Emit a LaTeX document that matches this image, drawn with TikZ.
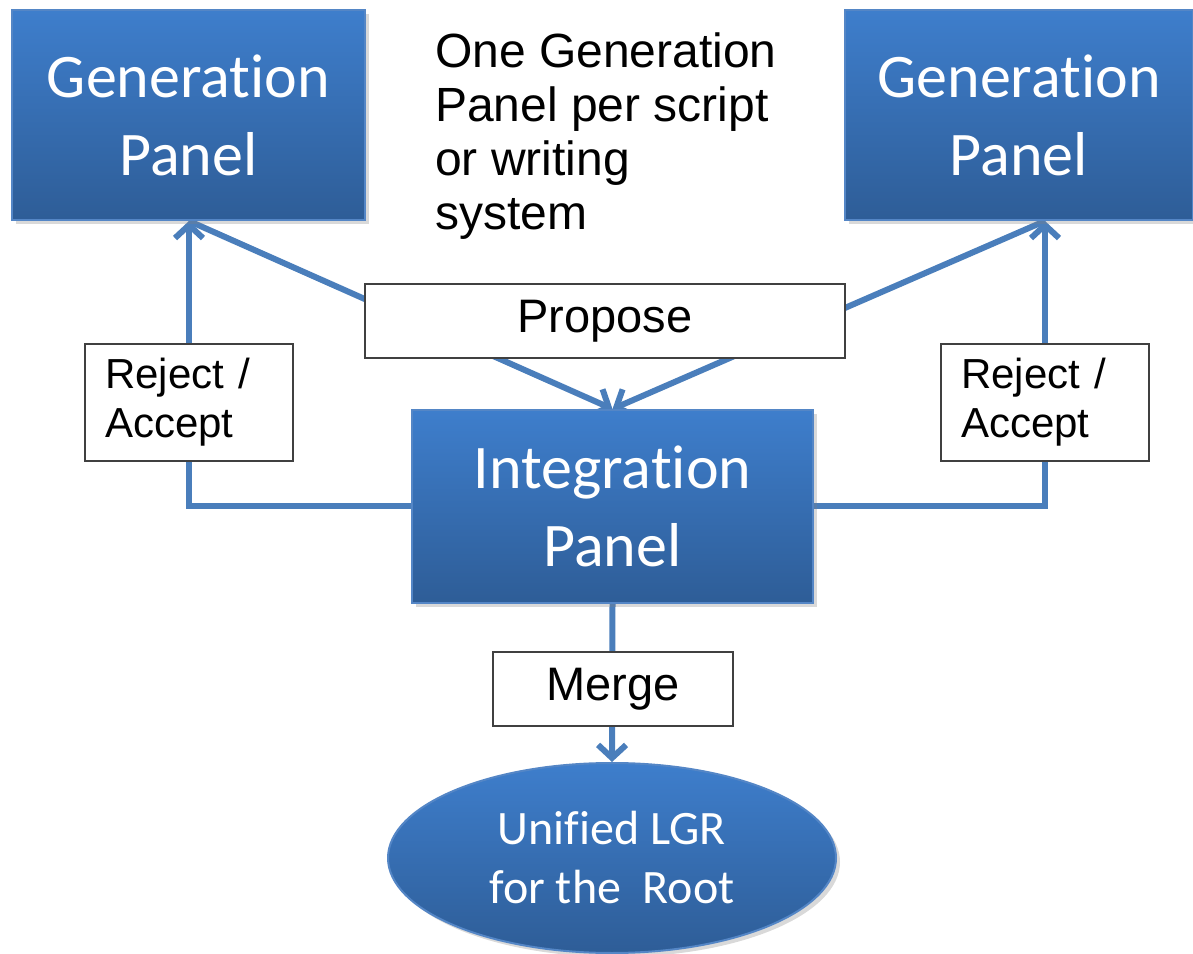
\documentclass[tikz,border=0pt]{standalone}
\usepackage{fontspec}
\setmainfont{Liberation Sans}
\newfontfamily\panelfont[Ligatures=NoCommon]{Carlito}
\usetikzlibrary{arrows.meta,shadows,backgrounds,shapes.geometric}

\definecolor{paneltop}{RGB}{62,126,204}
\definecolor{panelbot}{RGB}{46,93,151}
\definecolor{panelrim}{RGB}{84,134,198}
\definecolor{linkblue}{RGB}{74,126,187}

\tikzset{
  panel/.style={rectangle, draw=panelrim, line width=2pt, inner sep=0pt,
    top color=paneltop, bottom color=panelbot, text=white, align=center,
    font=\panelfont\fontsize{62}{78}\selectfont,
    drop shadow={opacity=0.3, shadow xshift=4pt, shadow yshift=-4pt}},
  tag/.style={rectangle, draw=black!75, line width=1.5pt, fill=white,
    font=\fontsize{47}{54}\selectfont},
  choice/.style={tag, text width=168pt, align=left, inner xsep=20pt,
    inner ysep=0pt, minimum height=117pt, font=\fontsize{42}{49}\selectfont},
  link/.style={draw=linkblue, line width=6pt,
    -{Straight Barb[length=13pt,width=28pt]}},
}

\begin{document}
\begin{tikzpicture}
  \useasboundingbox (0pt,0pt) rectangle (1193pt,953pt);

  \node[panel, minimum width=353pt, minimum height=210pt]
    (genL) at (188.5pt,838pt) {Generation\\Panel};
  \node[panel, minimum width=348pt, minimum height=210pt]
    (genR) at (1019pt,838pt) {Generation\\Panel};
  \node[anchor=north west, inner sep=0pt, align=left,
    font=\fontsize{48}{54}\selectfont]
    (note) at (435pt,920pt) {One Generation\\Panel per script\\or writing\\system};

  \node[tag, minimum width=480pt, minimum height=74pt]
    (propose) at (605pt,632pt) {Propose};
  \node[choice] (rejL) at (189pt,550.5pt) {Reject /\\Accept};
  \node[choice] (rejR) at (1045pt,550.5pt) {Reject /\\Accept};

  \node[panel, minimum width=401pt, minimum height=193pt]
    (integ) at (612.5pt,446.5pt) {Integration\\Panel};
  \node[tag, minimum width=240pt, minimum height=74pt]
    (merge) at (613pt,264pt) {Merge};
  \node[panel, ellipse, minimum width=448pt, minimum height=190pt,
    font=\panelfont\fontsize{48}{59}\selectfont]
    (root) at (612pt,95pt) {Unified LGR\\for the\ \ Root};

  \coordinate (tipL) at (rejL |- genL.south);
  \coordinate (tipR) at (rejR |- genR.south);

  % connectors sit behind the boxes
  \begin{scope}[on background layer]
    \draw[link] (integ.west) -| (tipL);
    \draw[link] (integ.east) -| (tipR);
    \draw[link] (tipL) -- (integ.north);
    \draw[link] (tipR) -- (integ.north);
    \draw[link] (integ.south) -- (root.north);
  \end{scope}
\end{tikzpicture}
\end{document}
